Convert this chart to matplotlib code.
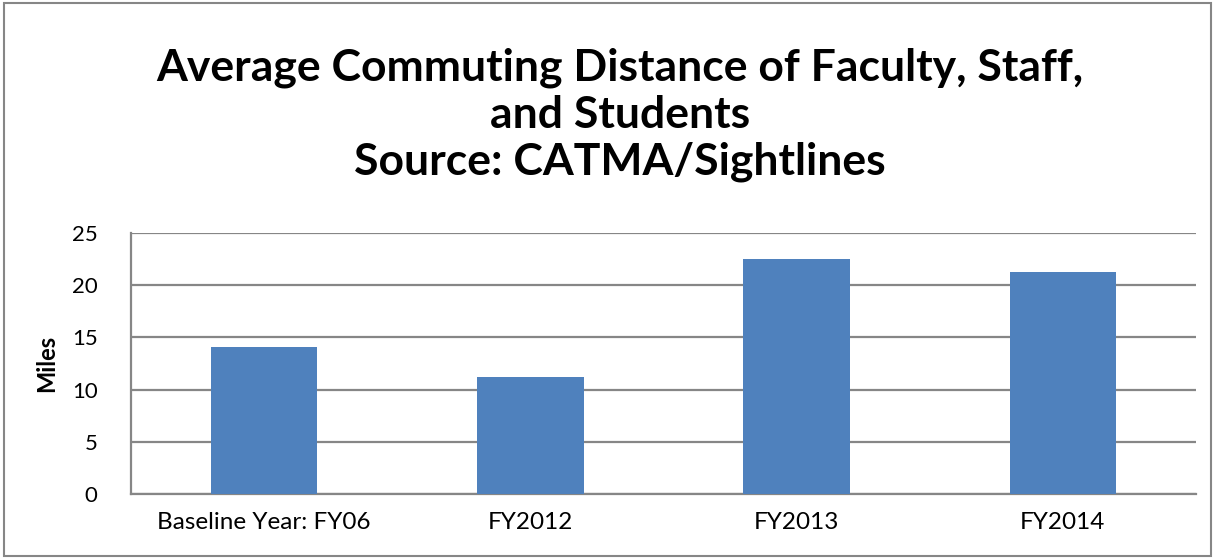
import matplotlib.pyplot as plt
from matplotlib.patches import Rectangle

categories = ["Baseline Year: FY06", "FY2012", "FY2013", "FY2014"]
miles = [14.1, 11.2, 22.5, 21.3]
yticks = [0, 5, 10, 15, 20, 25]

plt.rcParams['font.family'] = ['Lato', 'DejaVu Sans']

fig = plt.figure(figsize=(12.15, 5.59), dpi=100)
ax = fig.add_axes([131/1215, 1-494/559, (1196-131)/1215, (494-233)/559])

x = range(len(categories))
ax.bar(x, miles, width=0.4, color='#4F81BD', zorder=3)
ax.set_xlim(-0.5, len(categories)-0.5)
ax.set_ylim(0, 25)
ax.set_yticks(yticks)
ax.set_xticks(list(x))
ax.set_xticklabels(categories, fontsize=17.5)
ax.tick_params(axis='y', labelsize=16, length=0, pad=24)
ax.tick_params(axis='x', length=0, pad=13)
ax.grid(axis='y', color='#868686', linewidth=1.6, zorder=0)
for s in ['top', 'right']:
    ax.spines[s].set_visible(False)
for s in ['left', 'bottom']:
    ax.spines[s].set_color('#868686')
    ax.spines[s].set_linewidth(1.6)
ax.set_ylabel("Miles", fontsize=17, fontweight='bold', labelpad=10)

fig.text(0.51, 1-115/559, "Average Commuting Distance of Faculty, Staff,\nand Students\nSource: CATMA/Sightlines",
         ha='center', va='center', fontsize=32, fontweight='bold', linespacing=1.2)

fig.patches.append(Rectangle((4/1215, 3/559), 1-8/1215, 1-6/559, transform=fig.transFigure,
                             fill=False, edgecolor='#868686', linewidth=1.5))

fig.savefig("out.png", dpi=100)
